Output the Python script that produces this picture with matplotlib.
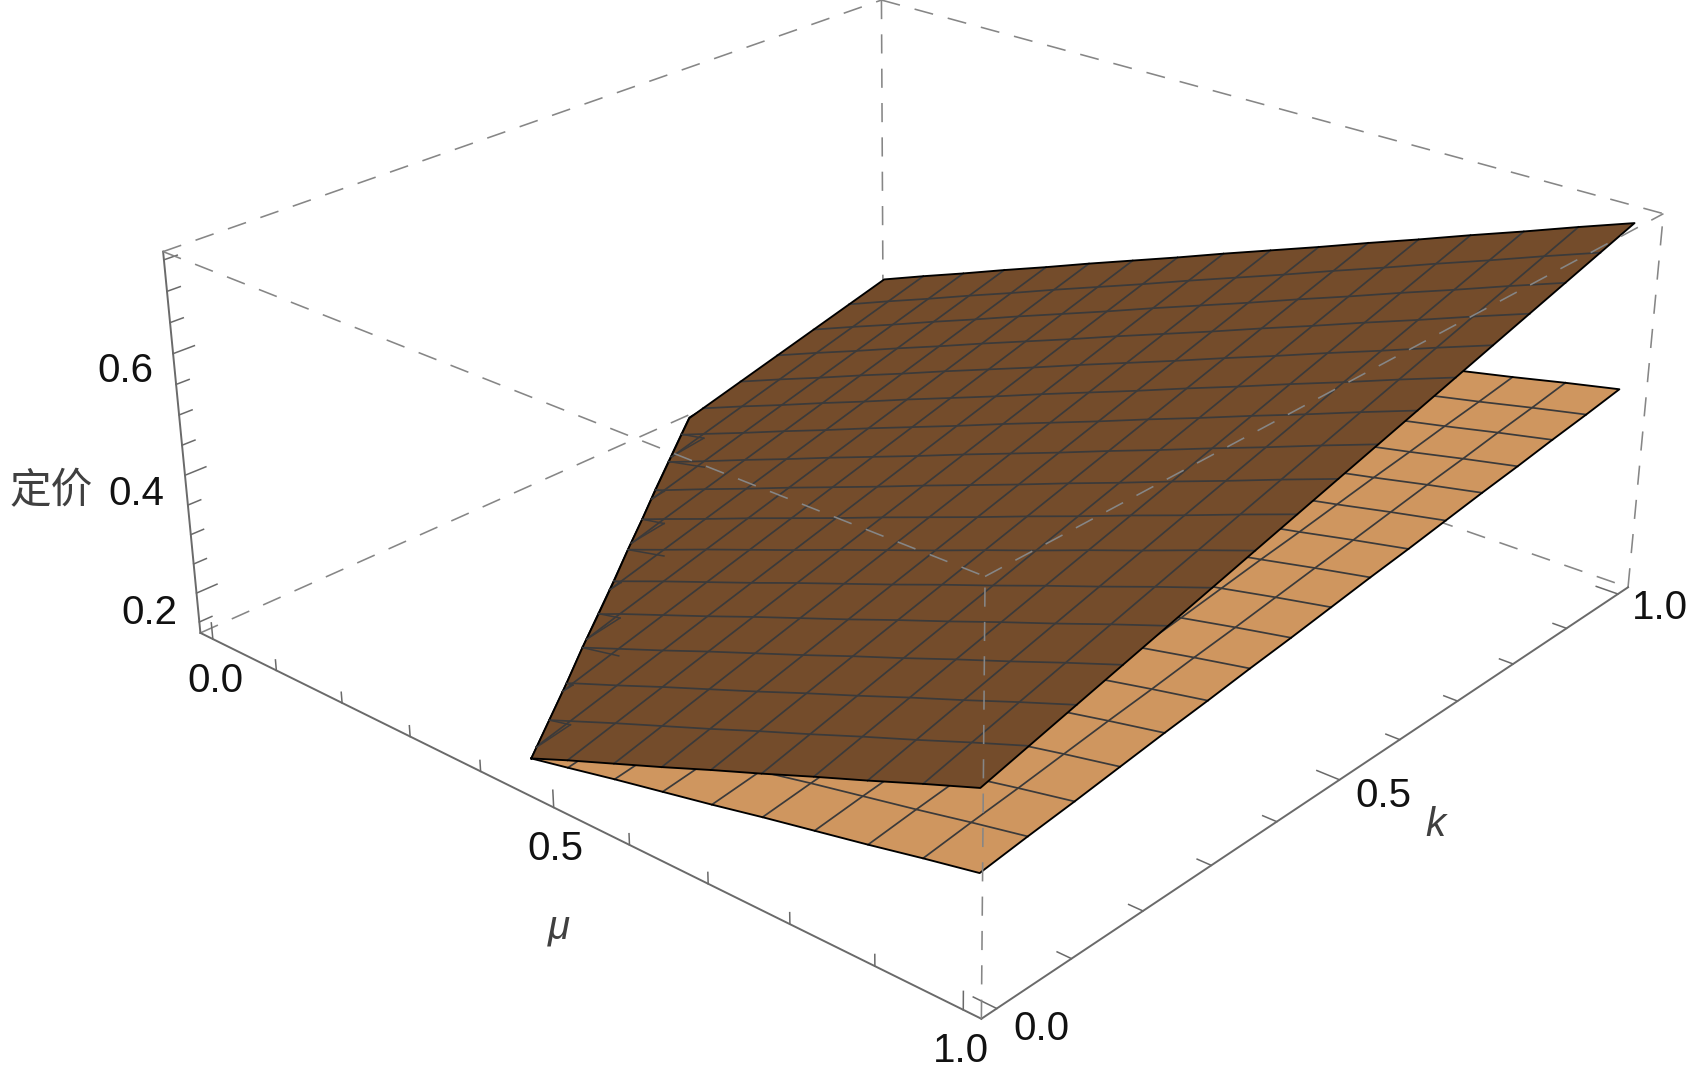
import matplotlib
matplotlib.use('Agg')
import matplotlib.pyplot as plt
from mpl_toolkits.mplot3d.art3d import Poly3DCollection

W, H = 1705, 1077
mu_lim = (-0.02, 1.02)
k_lim = (-0.02, 1.02)
z_lim = (0.131, 0.763)

# mesh lines sit every 1/16 in both directions
mu_grid = [i / 16 for i in range(17)]
k_grid = [j / 16 for j in range(17)]

# where each constant k row enters the surface on the left, None = row starts on a mesh node
left_mu = [.450, .408, .366, .323, .281, .239, .196, .154, .111, .069, .027, None, None, None, None, None, None]
dark_left_z = [.168, .166, .164, .162, .159, .157, .155, .153, .150, .148, .146, None, None, None, None, None, None]
light_left_z = [.168, .166, .164, .162, .160, .158, .155, .153, .151, .149, .147, None, None, None, None, None, None]

# the left edge meets mu = 0 here
kink_k = .665
kink_dark_z = .144
kink_light_z = .145

# where each constant mu line (i = 1..7) enters the surface
col_left_k = [.573, .480, .388, .296, .203, .111, .018]
col_dark_z = [.148, .151, .154, .158, .161, .164, .168]
col_light_z = [.149, .152, .155, .158, .161, .164, .167]

# heights per row, last value is mu = 1, the rows get shorter towards the missing corner
dark_rows = [
    [.194, .225, .256, .288, .319, .351, .382, .414, .445],
    [.181, .213, .244, .275, .307, .338, .370, .401, .433, .464],
    [.169, .200, .232, .263, .294, .326, .357, .389, .420, .452, .483],
    [.188, .219, .251, .282, .313, .345, .376, .408, .439, .471, .502],
    [.176, .207, .238, .270, .301, .332, .364, .395, .427, .458, .490, .521],
    [.163, .195, .226, .257, .289, .320, .351, .383, .414, .446, .477, .509, .540],
    [.182, .214, .245, .276, .308, .339, .370, .402, .433, .465, .496, .528, .559],
    [.170, .201, .233, .264, .295, .327, .358, .389, .421, .452, .484, .515, .547, .578],
    [.157, .189, .220, .252, .283, .314, .346, .377, .408, .440, .471, .503, .534, .566, .597],
    [.176, .208, .239, .271, .302, .333, .365, .396, .427, .459, .490, .522, .553, .585, .616],
    [.164, .195, .227, .258, .290, .321, .352, .384, .415, .446, .478, .509, .541, .572, .604, .635],
    [.151, .183, .214, .246, .277, .309, .340, .371, .403, .434, .465, .497, .528, .560, .591, .623, .654],
    [.170, .202, .233, .265, .296, .328, .359, .390, .422, .453, .484, .516, .547, .579, .610, .642, .673],
    [.189, .221, .252, .284, .315, .347, .378, .409, .441, .472, .503, .535, .566, .598, .629, .661, .692],
    [.208, .240, .271, .303, .334, .366, .397, .428, .460, .491, .522, .554, .585, .617, .648, .680, .711],
    [.227, .259, .290, .322, .353, .385, .416, .447, .479, .510, .541, .573, .604, .636, .667, .699, .730],
    [.246, .278, .309, .341, .372, .404, .435, .466, .498, .529, .560, .592, .623, .655, .686, .718, .749],
]
light_rows = [
    [.182, .200, .217, .234, .252, .269, .286, .304, .321],
    [.175, .192, .210, .227, .244, .262, .279, .296, .314, .331],
    [.166, .184, .201, .219, .236, .253, .271, .288, .305, .323, .340],
    [.176, .194, .211, .229, .246, .263, .281, .298, .315, .333, .350],
    [.169, .186, .204, .221, .239, .256, .273, .291, .308, .325, .343, .360],
    [.161, .178, .195, .213, .230, .248, .265, .282, .300, .317, .334, .352, .369],
    [.171, .188, .205, .223, .240, .258, .275, .292, .310, .327, .344, .362, .379],
    [.162, .180, .197, .214, .232, .249, .267, .284, .301, .319, .336, .353, .371, .388],
    [.155, .172, .190, .207, .224, .242, .259, .277, .294, .311, .329, .346, .363, .381, .398],
    [.165, .182, .200, .217, .234, .252, .269, .287, .304, .321, .339, .356, .373, .391, .408],
    [.156, .174, .191, .209, .226, .243, .261, .278, .296, .313, .330, .348, .365, .382, .400, .417],
    [.149, .166, .184, .201, .219, .236, .253, .271, .288, .306, .323, .340, .358, .375, .392, .410, .427],
    [.159, .176, .194, .211, .229, .246, .263, .281, .298, .316, .333, .350, .368, .385, .402, .420, .437],
    [.168, .185, .203, .220, .238, .255, .272, .290, .307, .325, .342, .359, .377, .394, .411, .429, .446],
    [.178, .195, .213, .230, .248, .265, .282, .300, .317, .335, .352, .369, .387, .404, .421, .439, .456],
    [.187, .204, .222, .239, .257, .274, .291, .309, .326, .344, .361, .378, .396, .413, .430, .448, .465],
    [.197, .214, .232, .249, .267, .284, .301, .319, .336, .354, .371, .388, .406, .423, .440, .458, .475],
]

major_ticks = [0.0, 0.5, 1.0]
minor_ticks = [.1, .2, .3, .4, .6, .7, .8, .9]
z_major = [.2, .4, .6]
z_minor = [.15, .25, .3, .35, .45, .5, .55, .65, .7, .75]

# text, x, y in pixels of the picture
tick_labels = [('0.6', 125, 371), ('0.4', 136, 494), ('0.2', 149, 613), ('0.0', 215, 681),
               ('0.5', 555, 849), ('1.0', 961, 1051), ('0.0', 1041, 1029), ('0.5', 1383, 796),
               ('1.0', 1660, 608)]

DARK = '#744c2b'
LIGHT = '#cf965f'
MESH = '#3b3a3a'
AXIS = '#6a6a6a'
DASH = '#868686'

plt.rcParams['font.family'] = ['Liberation Sans', 'DejaVu Sans']

# camera was fitted against the corners of the box in the picture
size, cen_x, cen_y = 1479.46, 903.22, 445.78
fig = plt.figure(figsize=(W / 100, H / 100), dpi=100)
ax = fig.add_axes([(cen_x - size / 2) / W, 1 - (cen_y + size / 2) / H, size / W, size / H],
                  projection='3d', computed_zorder=False)
ax.set_xlim(*mu_lim)
ax.set_ylim(*k_lim)
ax.set_zlim(*z_lim)
ax.set_box_aspect((1, 1.0019, 0.4012))
ax.view_init(elev=24.8174, azim=-48.8568)
ax.set_proj_type('persp', focal_length=0.4393)
ax.set_axis_off()


def line(xs, ys, zs, color, lw, z, ls='-'):
    ax.plot(xs, ys, zs, color=color, lw=lw, ls=ls, zorder=z, clip_on=False)


def row_line(rows, left_z, j):
    row = rows[j]
    xs = mu_grid[17 - len(row):]
    zs = list(row)
    if left_mu[j] is not None:
        xs = [left_mu[j]] + xs
        zs = [left_z[j]] + zs
    return xs, zs


def col_line(rows, col_z, i):
    ks, zs = [], []
    if i <= 7:
        ks.append(col_left_k[i - 1])
        zs.append(col_z[i - 1])
    for j, row in enumerate(rows):
        if 17 - len(row) <= i:
            ks.append(k_grid[j])
            zs.append(row[i - 17 + len(row)])
    return ks, zs


def surface(rows, left_z, kink_z, color, z):
    # flat colour, so the outline of the sheet is enough for the fill
    xs0, zs0 = row_line(rows, left_z, 0)
    verts = list(zip(xs0, [0.0] * len(xs0), zs0))
    verts += [(1.0, k_grid[j], rows[j][-1]) for j in range(1, 17)]
    verts += [(mu_grid[i], 1.0, rows[16][i]) for i in range(15, -1, -1)]
    verts += [(0.0, k_grid[j], rows[j][0]) for j in range(15, 10, -1)]
    verts += [(0.0, kink_k, kink_z)]
    verts += [(left_mu[j], k_grid[j], left_z[j]) for j in range(10, -1, -1)]
    poly = Poly3DCollection([verts], facecolor=color, edgecolor='none', zorder=z, clip_on=False)
    ax.add_collection3d(poly)
    vx, vy, vz = zip(*verts)
    return vx, vy, vz


def draw_mesh(rows, left_z, col_z, z):
    for j in range(1, 16):
        xs, zs = row_line(rows, left_z, j)
        line(xs, [k_grid[j]] * len(xs), zs, MESH, 1.25, z)
    for i in range(1, 16):
        ks, zs = col_line(rows, col_z, i)
        line([mu_grid[i]] * len(ks), ks, zs, MESH, 1.25, z)


x0, x1 = mu_lim
y0, y1 = k_lim
z0, z1 = z_lim
dash = (0, (12, 9.5))

# box edges behind the surfaces
for a, b in [((x0, y0, z0), (x0, y1, z0)), ((x0, y1, z0), (x1, y1, z0)), ((x0, y1, z0), (x0, y1, z1)),
             ((x0, y0, z1), (x0, y1, z1)), ((x0, y1, z1), (x1, y1, z1)), ((x1, y1, z0), (x1, y1, z1))]:
    line(*zip(a, b), DASH, 1.15, 1, dash)

# axes with ticks
line([x0, x1], [y0, y0], [z0, z0], AXIS, 1.4, 1)
line([x1, x1], [y0, y1], [z0, z0], AXIS, 1.4, 1)
line([x0, x0], [y0, y0], [z0, z1], AXIS, 1.4, 1)
for t in major_ticks + minor_ticks:
    tz = .028 if t in major_ticks else .018
    tk = .026 if t in major_ticks else .016
    line([t, t], [y0, y0], [z0, z0 + tz], AXIS, 1.1, 1)
    line([x1, x1 - tk], [t, t], [z0, z0], AXIS, 1.1, 1)
for t in z_major + z_minor:
    tk = .026 if t in z_major else .016
    line([x0, x0], [y0, y0 + tk], [t, t], AXIS, 1.1, 1)

# lower sheet
lx, ly, lz = surface(light_rows, light_left_z, kink_light_z, LIGHT, 2)
draw_mesh(light_rows, light_left_z, col_light_z, 3)
line(list(lx) + [lx[0]], list(ly) + [ly[0]], list(lz) + [lz[0]], 'black', 1.35, 3)

# upper sheet
dx, dy, dz = surface(dark_rows, dark_left_z, kink_dark_z, DARK, 4)
draw_mesh(dark_rows, dark_left_z, col_dark_z, 5)
line(list(dx) + [dx[0]], list(dy) + [dy[0]], list(dz) + [dz[0]], 'black', 1.35, 6)

# the two sheets nearly touch on the left edge and the lower mesh pokes through there
for j in range(1, 11):
    xs, zs = row_line(light_rows, light_left_z, j)
    line(xs[:2], [k_grid[j]] * 2, zs[:2], MESH, 1.1, 6)
for i in range(1, 8):
    ks, zs = col_line(light_rows, col_light_z, i)
    line([mu_grid[i]] * 2, ks[:2], zs[:2], MESH, 1.1, 6)

# box edges in front of the surfaces
for a, b in [((x0, y0, z1), (x1, y0, z1)), ((x1, y0, z1), (x1, y1, z1)), ((x1, y0, z0), (x1, y0, z1))]:
    line(*zip(a, b), DASH, 1.15, 7, dash)

for s, px, py in tick_labels:
    fig.text(px / W, 1 - py / H, s, fontsize=29, color='#111111', ha='center', va='center')
fig.text(51 / W, 1 - 492 / H, '定价', fontsize=30, color='#404040', ha='center', va='center',
         family=['Noto Sans CJK SC', 'DejaVu Sans'])
fig.text(559 / W, 1 - 928 / H, 'μ', fontsize=29, color='#404040', ha='center', va='center', style='italic')
fig.text(1435 / W, 1 - 825 / H, 'k', fontsize=29, color='#404040', ha='center', va='center', style='italic')

ax.set_xlim(*mu_lim)
ax.set_ylim(*k_lim)
ax.set_zlim(*z_lim)
fig.savefig('out.png', dpi=100)
